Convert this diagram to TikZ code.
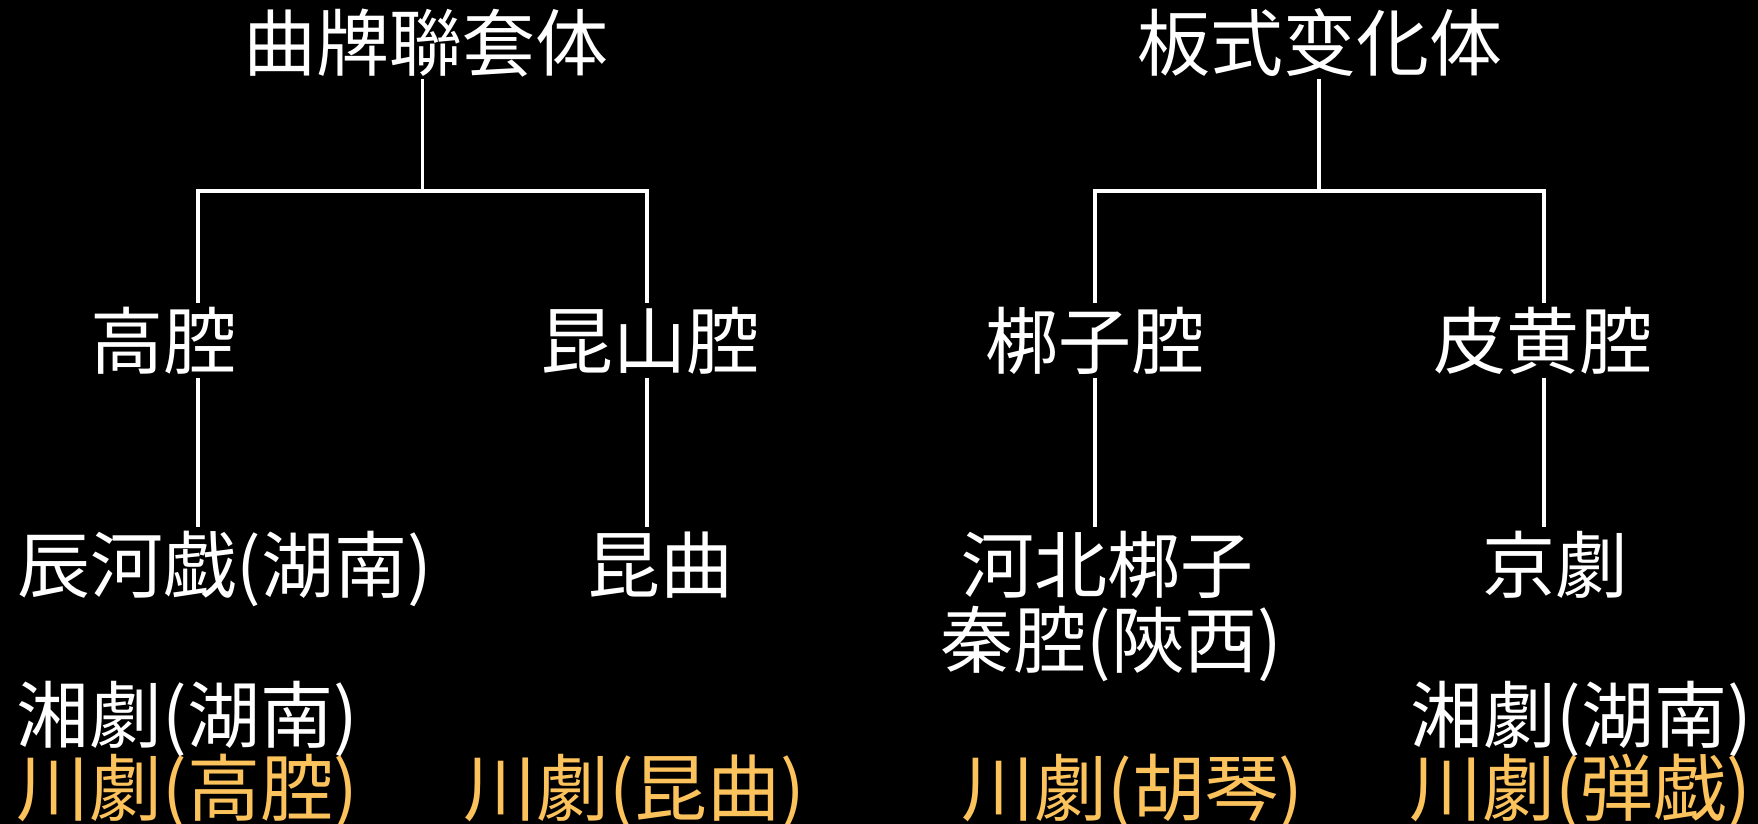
\documentclass[tikz,border=0pt]{standalone}
\usepackage{fontspec}
\newfontfamily\cjk{Noto Sans CJK JP}
\definecolor{orangey}{HTML}{FCC35C}
\begin{document}
\begin{tikzpicture}[x=1pt,y=1pt,
  lbl/.style={font=\cjk\fontsize{73}{73}\selectfont, text=white, inner sep=0pt, anchor=base},
  hl/.style={lbl, text=orangey},
  conn/.style={draw=white, line width=3.5pt}]
\fill[black] (0,0) rectangle (1758,-824);
\useasboundingbox (0,0) rectangle (1758,-824);
% titles
\node[lbl] (t1) at (426,-71) {曲牌聯套体};
\node[lbl] (t2) at (1320,-71) {板式变化体};
% level 2
\node[lbl] (a1) at (163,-368) {高腔};
\node[lbl] (a2) at (650,-368) {昆山腔};
\node[lbl] (a3) at (1095,-368) {梆子腔};
\node[lbl] (a4) at (1543,-368) {皮黄腔};
% level 3
\node[lbl] (b1) at (225,-592) {辰河戯(湖南)};
\node[lbl] (b2) at (660,-592) {昆曲};
\node[lbl] (b3) at (1107,-592) {河北梆子};
\node[lbl] (b3b) at (1111,-667) {秦腔(陝西)};
\node[lbl] (b4) at (1555,-592) {京劇};
\node[lbl] (c1) at (187,-742) {湘劇(湖南)};
\node[lbl] (c2) at (1581,-742) {湘劇(湖南)};
\node[hl] (d1) at (187,-815) {川劇(高腔)};
\node[hl] (d2) at (634,-815) {川劇(昆曲)};
\node[hl] (d3) at (1132,-815) {川劇(胡琴)};
\node[hl] (d4) at (1580,-815) {川劇(弾戯)};
% connector coordinates, left tree
\coordinate (t1s) at (422.6,-79);
\coordinate (j1) at (422.6,-191);
\coordinate (j1l) at (198,-191);
\coordinate (j1r) at (647,-191);
\coordinate (a1n) at (198,-303);
\coordinate (a2n) at (647,-303);
\coordinate (a1s) at (198,-378);
\coordinate (a2s) at (647,-378);
\coordinate (b1n) at (198,-527);
\coordinate (b2n) at (647,-527);
% right tree
\coordinate (t2s) at (1319,-79);
\coordinate (j2) at (1319,-191);
\coordinate (j2l) at (1095,-191);
\coordinate (j2r) at (1544,-191);
\coordinate (a3n) at (1095,-303);
\coordinate (a4n) at (1544,-303);
\coordinate (a3s) at (1095,-378);
\coordinate (a4s) at (1544,-378);
\coordinate (b3n) at (1095,-527);
\coordinate (b4n) at (1544,-527);
% connectors
\draw[conn] (t1s) -- (j1);
\draw[conn] (a1n) -- (j1l) -- (j1r) -- (a2n);
\draw[conn] (a1s) -- (b1n);
\draw[conn] (a2s) -- (b2n);
\draw[conn] (t2s) -- (j2);
\draw[conn] (a3n) -- (j2l) -- (j2r) -- (a4n);
\draw[conn] (a3s) -- (b3n);
\draw[conn] (a4s) -- (b4n);
\end{tikzpicture}
\end{document}
